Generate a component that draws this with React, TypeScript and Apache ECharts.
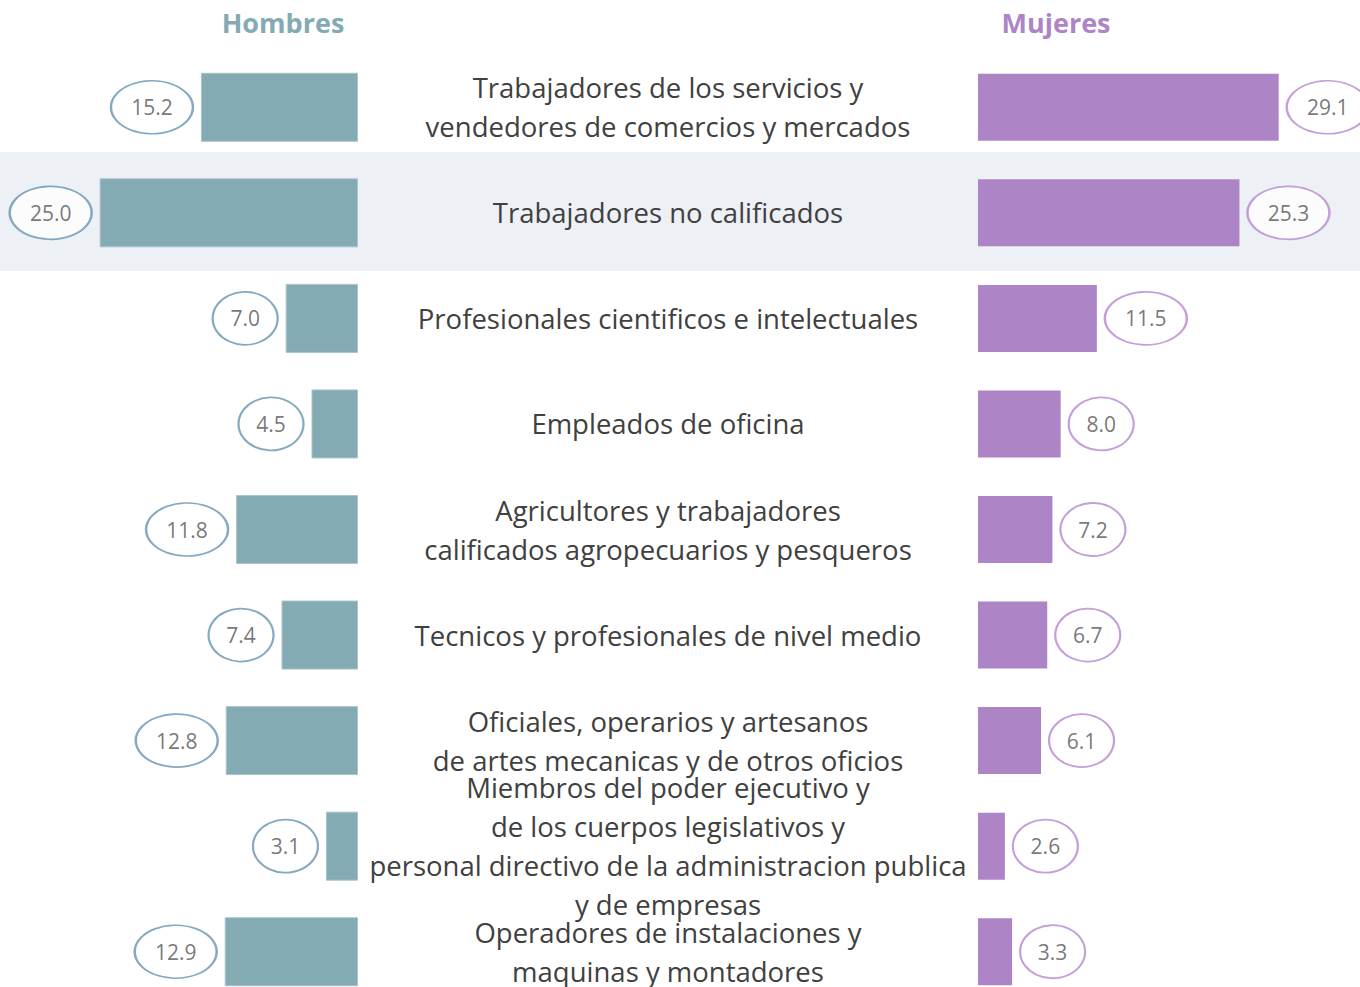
import React, { useEffect, useRef } from "react";
import * as echarts from "echarts";

const categories = [
  "Trabajadores de los servicios y\nvendedores de comercios y mercados",
  "Trabajadores no calificados",
  "Profesionales cientificos e intelectuales",
  "Empleados de oficina",
  "Agricultores y trabajadores\ncalificados agropecuarios y pesqueros",
  "Tecnicos y profesionales de nivel medio",
  "Oficiales, operarios y artesanos\nde artes mecanicas y de otros oficios",
  "Miembros del poder ejecutivo y\nde los cuerpos legislativos y\npersonal directivo de la administracion publica\ny de empresas",
  "Operadores de instalaciones y\nmaquinas y montadores",
];
const hombres = [15.2, 25.0, 7.0, 4.5, 11.8, 7.4, 12.8, 3.1, 12.9];
const mujeres = [29.1, 25.3, 11.5, 8.0, 7.2, 6.7, 6.1, 2.6, 3.3];
const seriesNames = ["Hombres", "Mujeres"];

const HCOLOR = "#84aab4";
const MCOLOR = "#ad84c6";

function bubbles(values: number[], dir: number) {
  return values.map((v, i) => {
    const txt = v.toFixed(1);
    const w = txt.length >= 4 ? 82 : 65;
    return {
      value: [v, categories[i]],
      symbolSize: [w, 53],
      symbolOffset: [dir * (w / 2 + 8), 0],
    };
  });
}

export default function App() {
  const ref = useRef<HTMLDivElement>(null);
  useEffect(() => {
    document.body.style.margin = "0";
    const chart = echarts.init(ref.current!, null, { renderer: "svg" });
    const top = 54.5;
    const height = 950;
    const bubbleLabel = {
      show: true,
      position: "inside",
      formatter: (p: any) => p.value[0].toFixed(1),
      color: "#555555",
      fontSize: 21,
      fontFamily: "'Open Sans', sans-serif",
    };
    chart.setOption({
      animation: false,
      backgroundColor: "#ffffff",
      graphic: [
        {
          type: "rect",
          z: -10,
          silent: true,
          shape: { x: 0, y: 152, width: 1360, height: 119 },
          style: { fill: "#edf0f5" },
        },
        {
          type: "text",
          x: 283,
          y: 22,
          style: {
            text: seriesNames[0],
            fill: HCOLOR,
            font: "bold 27px 'Open Sans', sans-serif",
            textAlign: "center",
            textVerticalAlign: "middle",
          },
        },
        {
          type: "text",
          x: 1056,
          y: 22,
          style: {
            text: seriesNames[1],
            fill: MCOLOR,
            font: "bold 27px 'Open Sans', sans-serif",
            textAlign: "center",
            textVerticalAlign: "middle",
          },
        },
      ],
      grid: [
        { left: 48, width: 310, top, height, outerBoundsMode: "none", containLabel: false },
        { left: 978, width: 310, top, height, outerBoundsMode: "none", containLabel: false },
      ],
      xAxis: [
        { gridIndex: 0, type: "value", min: 0, max: 30, inverse: true, show: false },
        { gridIndex: 1, type: "value", min: 0, max: 30, show: false },
      ],
      yAxis: [
        {
          gridIndex: 0,
          type: "category",
          data: categories,
          inverse: true,
          axisLine: { show: false },
          axisTick: { show: false },
          axisLabel: { show: false },
        },
        {
          gridIndex: 1,
          type: "category",
          data: categories,
          inverse: true,
          position: "left",
          axisLine: { show: false },
          axisTick: { show: false },
          axisLabel: {
            show: true,
            interval: 0,
            hideOverlap: false,
            margin: 310,
            align: "center",
            color: "#404040",
            fontSize: 27.5,
            lineHeight: 39,
            padding: [4, 0, 0, 0],
            fontFamily: "'Open Sans', sans-serif",
          },
        },
      ],
      series: [
        {
          name: seriesNames[0],
          type: "bar",
          xAxisIndex: 0,
          yAxisIndex: 0,
          data: hombres,
          barWidth: 69,
          itemStyle: { color: HCOLOR, borderColor: "#a9c4cb", borderWidth: 1 },
        },
        {
          name: seriesNames[1],
          type: "bar",
          xAxisIndex: 1,
          yAxisIndex: 1,
          data: mujeres,
          barWidth: 67,
          itemStyle: { color: MCOLOR },
        },
        {
          type: "scatter",
          xAxisIndex: 0,
          yAxisIndex: 0,
          symbol: "circle",
          data: bubbles(hombres, -1),
          itemStyle: { color: "#ffffff", borderColor: "#6593b0", borderWidth: 2 },
          label: bubbleLabel,
          z: 5,
        },
        {
          type: "scatter",
          xAxisIndex: 1,
          yAxisIndex: 1,
          symbol: "circle",
          data: bubbles(mujeres, 1),
          itemStyle: { color: "#ffffff", borderColor: "#b587d0", borderWidth: 2 },
          label: bubbleLabel,
          z: 5,
        },
      ],
    });
    return () => chart.dispose();
  }, []);
  return <div ref={ref} style={{ width: 1360, height: 987 }} />;
}
